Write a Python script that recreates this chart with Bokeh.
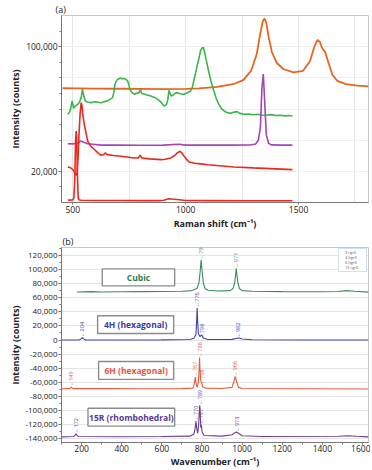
import numpy as np
from bokeh.plotting import figure
from bokeh.layouts import column
from bokeh.models import (FixedTicker, NumeralTickFormatter, Legend, LegendItem,
                          ColumnDataSource, Range1d)
from bokeh.core.properties import value
from bokeh.embed import file_html
from bokeh.resources import INLINE

FONT = "Open Sans"

# ---------------- Panel (a): Raman spectra ----------------
a_orange_x = [455, 520, 600, 700, 800, 900, 1000, 1060, 1140, 1210, 1255, 1290, 1315, 1330, 1342,
              1350, 1358, 1368, 1382, 1404, 1434, 1478, 1520, 1550, 1570, 1584, 1595, 1605, 1618,
              1632, 1650, 1672, 1710, 1760, 1810]
a_orange_y = [73300, 73200, 73100, 73000, 72900, 72800, 72900, 73300, 74200, 75900, 78500, 84500,
              95300, 108000, 116500, 118000, 115000, 106000, 96500, 89500, 85500, 83500, 84500,
              90500, 100000, 104300, 103000, 99000, 96500, 90000, 82000, 78000, 76000, 75000, 74500]

a_green_x = [478, 485, 490, 497, 504, 512, 522, 530, 537, 543, 549, 556, 566, 581, 600, 625, 640,
             654, 668, 676, 682, 687, 693, 699, 710, 720, 728, 736, 743, 750, 755, 762, 772, 785,
             794, 800, 805, 812, 825, 846, 860, 875, 890, 904, 915, 921, 926, 931, 936, 945, 955,
             963, 975, 992, 1005, 1022, 1030, 1036, 1044, 1051, 1058, 1066, 1072, 1078, 1084, 1090,
             1097, 1103, 1112, 1125, 1136, 1147, 1160, 1175, 1184, 1200, 1215, 1228, 1240, 1258,
             1280, 1300, 1320, 1340, 1361, 1380, 1400, 1420, 1440, 1460, 1473]
a_green_y = [56600, 58000, 59800, 65200, 60500, 62000, 63000, 64500, 67300, 72700, 68000, 65000,
             64500, 64100, 64600, 64000, 64700, 65200, 66500, 67300, 70500, 75900, 78000, 79100,
             79800, 79400, 79600, 79000, 78100, 74500, 72000, 70500, 69500, 70200, 70500, 72700,
             70000, 69800, 69200, 68400, 67600, 66300, 64500, 61900, 62800, 66000, 72000, 70000,
             68400, 69000, 70200, 70500, 69800, 69500, 70300, 71600, 74000, 78100, 83000, 87700,
             92000, 97400, 99000, 99600, 96500, 92000, 87500, 83400, 78000, 71600, 66500, 63000,
             60000, 58300, 57700, 57200, 58000, 58300, 57200, 56600, 56800, 56300, 56600, 56000,
             56100, 56400, 55800, 56000, 55600, 55800, 55500]

a_purple_x = [478, 500, 522, 530, 537, 545, 566, 600, 625, 700, 800, 900, 971, 1000, 1100, 1200,
              1287, 1310, 1322, 1331, 1338, 1344, 1350, 1357, 1367, 1380, 1420, 1473]
a_purple_y = [37700, 37600, 38300, 39000, 39400, 38800, 37700, 37200, 36800, 36800, 36700, 36800,
              37400, 36800, 36900, 36800, 36900, 37500, 40000, 48000, 73800, 82400, 65200, 43700,
              38000, 37000, 36800, 36800]

a_red1_x = [478, 490, 500, 510, 515, 519, 524, 527, 532, 537, 541, 544, 551, 558, 566, 580, 596,
            610, 625, 636, 643, 650, 654, 680, 713, 740, 772, 790, 799, 805, 809, 840, 890, 910,
            934, 950, 963, 975, 983, 990, 1002, 1015, 1040, 1066, 1100, 1150, 1213, 1300, 1400, 1473]
a_red1_y = [22800, 22300, 21100, 18900, 17500, 18500, 30000, 42000, 56000, 64100, 62000, 56600,
            50000, 45000, 39400, 36000, 34000, 32000, 30300, 30600, 31800, 31000, 30700, 30200,
            29700, 29200, 28600, 28600, 30300, 28800, 28500, 28000, 27500, 27800, 28600, 30000,
            31800, 32900, 31800, 30300, 28000, 26000, 25200, 24800, 24200, 23600, 22800, 22200,
            21600, 21100]

a_red2_x = [478, 500, 505, 509, 512, 515, 518, 521, 524, 528, 540, 600, 700, 800, 880, 904, 920,
            926, 940, 971, 1000, 1100, 1300, 1473]
a_red2_y = [1500, 1600, 3000, 15000, 38000, 45800, 38000, 15000, 3000, 1600, 1400, 1300, 1300,
            1200, 1200, 1400, 2200, 2400, 2200, 1800, 1300, 1200, 1100, 1100]

a_xticks = [500, 1000, 1500]
a_xgrid = [500, 750, 1000, 1250, 1500, 1750]
a_yticks = [20000, 100000]
a_yminor = [10000, 20000, 30000, 40000, 50000, 60000, 70000, 80000, 90000, 100000, 110000]
a_ygrid = [20000, 40000, 60000, 80000, 100000]

# ---------------- Panel (b): SiC polytypes ----------------
b_cubic_x = [177, 250, 300, 400, 500, 600, 700, 750, 775, 785, 791, 796, 801, 807, 815, 830, 880,
             940, 955, 963, 968, 971, 974, 979, 987, 1000, 1050, 1200, 1400, 1480, 1520, 1560, 1630]
b_cubic_y = [68000, 68500, 68000, 68300, 68500, 68800, 69000, 70000, 73000, 81000, 97000, 113500,
             97000, 81000, 73000, 70500, 69500, 70000, 73000, 81000, 93000, 101500, 93000, 81000,
             73000, 70000, 69000, 68500, 68300, 68800, 70000, 69000, 67800]

b_4h_x = [100, 190, 200, 204, 208, 218, 400, 600, 740, 760, 770, 774, 776, 778, 782, 790, 798, 806,
          830, 950, 975, 985, 1000, 1050, 1300, 1630]
b_4h_y = [0, 300, 2000, 3500, 2000, 300, 0, 200, 800, 2500, 8000, 30000, 45800, 30000, 9000, 5000,
          7500, 3000, 800, 1000, 2500, 2800, 1500, 400, 0, 0]

b_6h_x = [100, 140, 145, 149, 153, 160, 300, 500, 700, 755, 762, 767, 771, 776, 782, 786, 788, 790,
          794, 798, 803, 815, 900, 950, 960, 966, 972, 982, 1000, 1300, 1630]
b_6h_y = [-69000, -68800, -67800, -66500, -67800, -68800, -68800, -69000, -68800, -68000, -62000,
          -52400, -62000, -67000, -60000, -40000, -24600, -40000, -58000, -60000, -66000, -68000,
          -68500, -67000, -58000, -51400, -58000, -67000, -68500, -69000, -69300]

b_15r_x = [100, 160, 167, 172, 177, 185, 400, 600, 740, 760, 766, 770, 774, 779, 784, 787, 789, 791,
           794, 797, 801, 810, 900, 950, 965, 973, 982, 1000, 1100, 1480, 1530, 1570, 1630]
b_15r_y = [-137000, -136500, -135000, -132600, -135000, -136500, -136800, -136500, -136000, -133000,
           -125000, -114800, -125000, -132000, -118000, -100000, -92200, -100000, -124000, -120000,
           -130000, -135000, -136000, -134000, -131000, -130200, -132000, -135500, -136500, -136200,
           -135500, -136200, -137000]

# peak annotations
pk_cubic_lbl = ["796", "971"]
pk_cubic_x = [796, 971]
pk_cubic_y = [114000, 102500]
pk_4h_lbl = ["204", "776", "798", "982"]
pk_4h_x = [204, 776, 798, 982]
pk_4h_y = [4500, 46500, 2000, 3500]
pk_6h_lbl = ["149", "767", "788", "798", "966"]
pk_6h_x = [149, 767, 788, 798, 966]
pk_6h_y = [-65500, -51500, -24000, -62500, -50500]
pk_15r_lbl = ["172", "770", "789", "797", "973"]
pk_15r_x = [172, 770, 789, 797, 973]
pk_15r_y = [-131500, -114000, -91500, -118500, -129500]

# name boxes
box_names = ["Cubic", "4H (hexagonal)", "6H (hexagonal)", "15R (rhombohedral)"]
box_left = [303, 280, 285, 232]
box_right = [664, 659, 659, 664]
box_bottom = [76700, 9200, -55600, -121800]
box_top = [100700, 34500, -30300, -96500]

legend_names = ["3 rgr0", "4 hgr0", "6 hgr0", "15 rgr0"]

b_xticks = [200, 400, 600, 800, 1000, 1200, 1400, 1600]
b_xminor = list(range(100, 1700, 100))
b_yticks = list(range(-140000, 120001, 20000))
b_yminor = list(range(-140000, 130001, 10000))

C_OR, C_GR, C_PU, C_RD = "#E8651F", "#3DB54A", "#A545B5", "#E8291E"
B_GR, B_BL, B_RD, B_PU = "#3E8C5A", "#3B45A8", "#E85A40", "#6A3D8F"


def style(p, tick_size="8.5px"):
    p.outline_line_color = "#c8c8c8"
    p.background_fill_color = "white"
    p.border_fill_color = "white"
    for ax in (p.xaxis[0], p.yaxis[0]):
        ax.major_label_text_font = FONT
        ax.major_label_text_font_size = tick_size
        ax.major_label_text_color = "#222222"
        ax.axis_label_text_font = FONT
        ax.axis_label_text_font_size = "9px"
        ax.axis_label_text_font_style = "bold"
        ax.axis_label_text_color = "#222222"
        ax.axis_line_color = "#777777"
        ax.major_tick_line_color = "#777777"
        ax.minor_tick_line_color = "#777777"
        ax.major_tick_out = 3
        ax.major_tick_in = 0
        ax.minor_tick_out = 2
        ax.minor_tick_in = 0
        ax.major_label_standoff = 1
        ax.axis_label_standoff = 1
    p.title.text_font = FONT
    p.title.text_font_size = "9px"
    p.title.text_font_style = "normal"
    p.title.text_color = "#222222"
    p.title.standoff = 0
    p.title.align = "left"


# ---- figure (a)
p1 = figure(width=370, height=232, x_range=Range1d(450, 1810), y_range=Range1d(0, 120000),
            output_backend="svg", toolbar_location=None, title="(a)",
            min_border_left=61, min_border_right=2, min_border_top=2, min_border_bottom=30)
style(p1)
p1.title.offset = -6
p1.xaxis.axis_label = "Raman shift (cm\u207b\u00b9)"
p1.yaxis.axis_label = "Intensity (counts)"
p1.xaxis.ticker = FixedTicker(ticks=a_xticks)
p1.xaxis.minor_tick_line_color = None
p1.xaxis.major_tick_out = 2
p1.yaxis.ticker = FixedTicker(ticks=a_yticks, minor_ticks=a_yminor)
p1.yaxis.formatter = NumeralTickFormatter(format="0,0")
p1.xgrid.ticker = FixedTicker(ticks=a_xgrid)
p1.ygrid.ticker = FixedTicker(ticks=a_ygrid)
p1.xgrid.grid_line_color = "#e6e6e6"
p1.ygrid.grid_line_color = "#eeeeee"

p1.line(a_orange_x, a_orange_y, line_color=C_OR, line_width=1.8)
p1.line(a_green_x, a_green_y, line_color=C_GR, line_width=1.6)
p1.line(a_purple_x, a_purple_y, line_color=C_PU, line_width=1.6)
p1.line(a_red1_x, a_red1_y, line_color=C_RD, line_width=1.6)
p1.line(a_red2_x, a_red2_y, line_color=C_RD, line_width=1.6)

# ---- figure (b)
p2 = figure(width=370, height=238, x_range=Range1d(100, 1630), y_range=Range1d(-145000, 131000),
            output_backend="svg", toolbar_location=None, title="(b)",
            min_border_left=49, min_border_right=2, min_border_top=2, min_border_bottom=20)
style(p2, tick_size="8px")
p2.title.offset = 1
p2.xaxis.major_label_text_font_size = "8.5px"
p2.xaxis.major_tick_out = 2
p2.xaxis.major_label_standoff = 0
p2.xaxis.axis_label_standoff = 0
p2.xaxis.axis_label = "Wavenumber (cm\u207b\u00b9)"
p2.yaxis.axis_label = "Intensity (counts)"
p2.yaxis.axis_label_standoff = 0
p2.xaxis.ticker = FixedTicker(ticks=b_xticks, minor_ticks=b_xminor)
p2.yaxis.ticker = FixedTicker(ticks=b_yticks, minor_ticks=b_yminor)
p2.yaxis.formatter = NumeralTickFormatter(format="0,0")
p2.xgrid.grid_line_color = None
p2.ygrid.grid_line_color = "#e4e4e4"

p2.line(b_cubic_x, b_cubic_y, line_color=B_GR, line_width=1.1)
p2.line(b_4h_x, b_4h_y, line_color=B_BL, line_width=1.1)
p2.line(b_6h_x, b_6h_y, line_color=B_RD, line_width=1.1)
p2.line(b_15r_x, b_15r_y, line_color=B_PU, line_width=1.1)


def add_peaks(p, xs, ys, labels, color):
    src = ColumnDataSource(dict(x=xs, y=ys, t=["\u2190" + s for s in labels]))
    p.text(x="x", y="y", text="t", source=src, angle=np.pi / 2, text_align="left",
           text_baseline="middle", text_font=value(FONT), text_font_size="5.5px",
           text_color=color)


add_peaks(p2, pk_cubic_x, pk_cubic_y, pk_cubic_lbl, B_GR)
add_peaks(p2, pk_4h_x, pk_4h_y, pk_4h_lbl, B_BL)
add_peaks(p2, pk_6h_x, pk_6h_y, pk_6h_lbl, B_RD)
add_peaks(p2, pk_15r_x, pk_15r_y, pk_15r_lbl, B_PU)

box_src = ColumnDataSource(dict(l=box_left, r=box_right, b=box_bottom, t=box_top, name=box_names,
                                cx=[(a + b) / 2 for a, b in zip(box_left, box_right)],
                                cy=[(a + b) / 2 for a, b in zip(box_bottom, box_top)],
                                col=["#2E7D50", "#3A3AA0", "#E8503C", "#5A3A90"]))
p2.quad(left="l", right="r", bottom="b", top="t", source=box_src, fill_color="white",
        line_color="#8c8c8c", line_width=1.4)
p2.text(x="cx", y="cy", text="name", source=box_src, text_align="center", text_baseline="middle",
        text_font=value(FONT), text_font_size="8.5px", text_font_style="bold", text_color="col")

leg_items = []
for nm, col in zip(legend_names, [B_GR, B_BL, B_RD, B_PU]):
    r = p2.scatter(x=[], y=[], marker="square", size=3, fill_color=col, line_color=col)
    leg_items.append(LegendItem(label=nm, renderers=[r]))
leg = Legend(items=leg_items, location="top_right", label_text_font=FONT,
             label_text_font_size="4px", label_text_color="#555555", glyph_width=3,
             glyph_height=3, label_height=3, label_standoff=2, spacing=0, padding=1, margin=1,
             border_line_color="#9fc5e0", border_line_width=0.8, background_fill_alpha=1)
p2.add_layout(leg)

layout = column(p1, p2, spacing=0)
open("out.html", "w").write(file_html(layout, INLINE))
